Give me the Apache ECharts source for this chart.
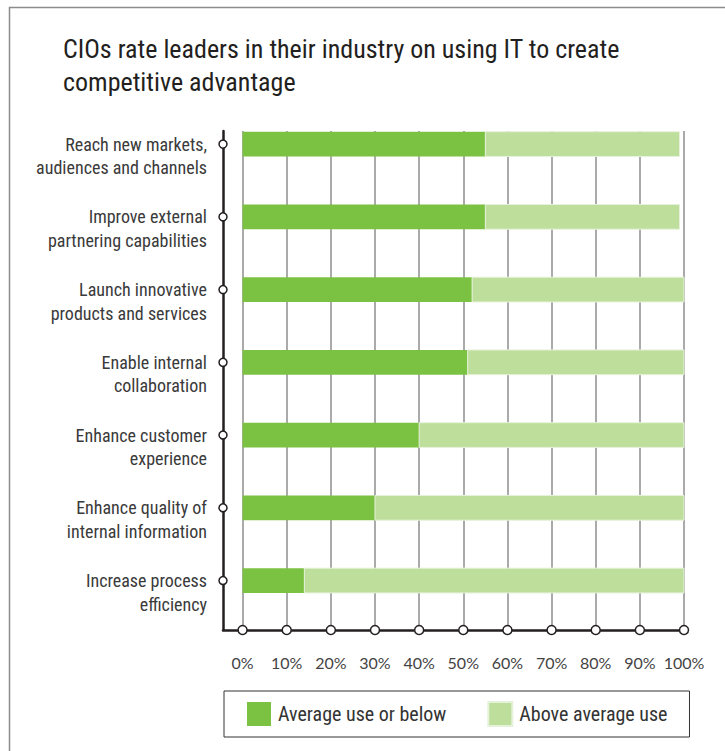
<!DOCTYPE html>
<html>
<head>
<meta charset="utf-8">
<script src="https://cdn.jsdelivr.net/npm/echarts@6/dist/echarts.min.js"></script>
<style>
  html, body { margin: 0; padding: 0; background: #fff; }
  #chart { width: 725px; height: 751px; }
  #chart text { font-stretch: condensed !important; }
</style>
</head>
<body>
<div id="chart"></div>
<script>
// Survey categories, top to bottom
const categories = [
  'Reach new markets,\naudiences and channels',
  'Improve external\npartnering capabilities',
  'Launch innovative\nproducts and services',
  'Enable internal\ncollaboration',
  'Enhance customer\nexperience',
  'Enhance quality of\ninternal information',
  'Increase process\nefficiency'
];
// Share of CIOs (%) per rating
const belowAverage = [55, 55, 52, 51, 40, 30, 14];
const aboveAverage = [44, 44, 48, 49, 60, 70, 86];
// Percentage ticks along the horizontal axis
const xTicks = [0, 10, 20, 30, 40, 50, 60, 70, 80, 90, 100];

const seriesNames = ['Average use or below', 'Above average use'];
const DARK = '#7cc242';
const LIGHT = '#bede9c';
const INK = '#231f20';
const FONT = "'Liberation Sans Narrow', 'Roboto Condensed', 'Noto Sans', 'DejaVu Sans Condensed', sans-serif";
const TICK_FONT = "Lato, 'Liberation Sans', sans-serif";

// Axis extents: the frame line sits a little left of 0% and below the last row
const X_MIN = -4.43, X_MAX = 100;
const Y_MIN = -0.18, Y_MAX = 6.68;
const BAR_RATIO = 0.34;

const idx = categories.map((_, i) => i);
const darkData = idx.map(i => [i, 0, belowAverage[i]]);
const lightData = idx.map(i => [i, belowAverage[i], belowAverage[i] + aboveAverage[i]]);

function renderSegment(params, api) {
  const row = api.value(0);
  const start = api.coord([api.value(1), row]);
  const end = api.coord([api.value(2), row]);
  const h = api.size([0, 1])[1] * BAR_RATIO;
  return {
    type: 'rect',
    shape: { x: start[0], y: start[1] - h / 2, width: end[0] - start[0], height: h },
    style: api.style()
  };
}

const chart = echarts.init(document.getElementById('chart'), null, { renderer: 'svg' });
chart.setOption({
  animation: false,
  backgroundColor: '#fff',
  title: {
    text: 'CIOs rate leaders in their industry on using IT to create\ncompetitive advantage',
    left: 63, top: 32, padding: 0,
    textStyle: { fontFamily: FONT, fontSize: 26, fontWeight: 'normal', color: INK, lineHeight: 33 }
  },
  graphic: [{
    type: 'polyline',
    shape: { points: [[9.5, 751], [9.5, 7.5], [725, 7.5]] },
    style: { stroke: '#8c8c8c', lineWidth: 1.5, fill: null },
    silent: true
  }],
  legend: {
    left: 224, top: 691,
    padding: [10, 22, 10, 23],
    borderColor: '#333', borderWidth: 1,
    itemWidth: 24, itemHeight: 24, itemGap: 41,
    icon: 'rect',
    data: [
      { name: seriesNames[0], itemStyle: { color: DARK } },
      { name: seriesNames[1], itemStyle: { color: LIGHT } }
    ],
    textStyle: { fontFamily: FONT, fontSize: 20, color: '#333', width: 168, padding: [0, 0, 0, 2] }
  },
  grid: { left: 223, right: 41, top: 131, bottom: 121 },
  xAxis: [{
    type: 'value', min: X_MIN, max: X_MAX,
    axisLine: { show: true, onZero: false, lineStyle: { color: INK, width: 2.5 } },
    axisTick: { show: false },
    splitLine: { show: false },
    axisLabel: {
      customValues: xTicks, margin: 24,
      formatter: v => v + '%',
      fontFamily: TICK_FONT, fontSize: 16, color: '#444'
    }
  }],
  yAxis: [{
    type: 'value', inverse: true, min: Y_MIN, max: Y_MAX,
    axisLine: { show: true, onZero: false, lineStyle: { color: INK, width: 2.5 } },
    axisTick: { show: false },
    splitLine: { show: false },
    axisLabel: {
      customValues: idx, margin: 16,
      // leading blank line puts the first text line level with the row marker
      formatter: v => '\n' + categories[Math.round(v)],
      fontFamily: FONT, fontSize: 18, color: '#3a3a3a', lineHeight: 23.5,
      align: 'right'
    }
  }],
  series: [
    {
      // vertical reference lines at each 10%
      type: 'line', data: [], silent: true, z: 1,
      markLine: {
        silent: true, z: 1, symbol: 'none', animation: false,
        label: { show: false },
        lineStyle: { color: '#8e8e8e', width: 1.5, type: 'solid' },
        data: xTicks.map(v => ({ xAxis: v }))
      }
    },
    {
      name: seriesNames[0], type: 'custom', z: 2,
      renderItem: renderSegment,
      encode: { x: [1, 2], y: 0 },
      itemStyle: { color: DARK },
      data: darkData
    },
    {
      name: seriesNames[1], type: 'custom', z: 2,
      renderItem: renderSegment,
      encode: { x: [1, 2], y: 0 },
      itemStyle: { color: LIGHT, borderColor: '#e6f1da', borderWidth: 1 },
      data: lightData
    },
    {
      // markers along the vertical axis, one per row
      type: 'scatter', z: 6, clip: false, silent: true,
      symbol: 'circle', symbolSize: 8,
      itemStyle: { color: '#fff', borderColor: INK, borderWidth: 1.5, opacity: 1 },
      data: idx.map(i => [X_MIN, i])
    },
    {
      // markers along the horizontal axis, one per tick
      type: 'scatter', z: 6, clip: false, silent: true,
      symbol: 'circle', symbolSize: 9,
      itemStyle: { color: '#fff', borderColor: INK, borderWidth: 1.5, opacity: 1 },
      data: xTicks.map(v => [v, Y_MAX])
    }
  ]
});
</script>
</body>
</html>
